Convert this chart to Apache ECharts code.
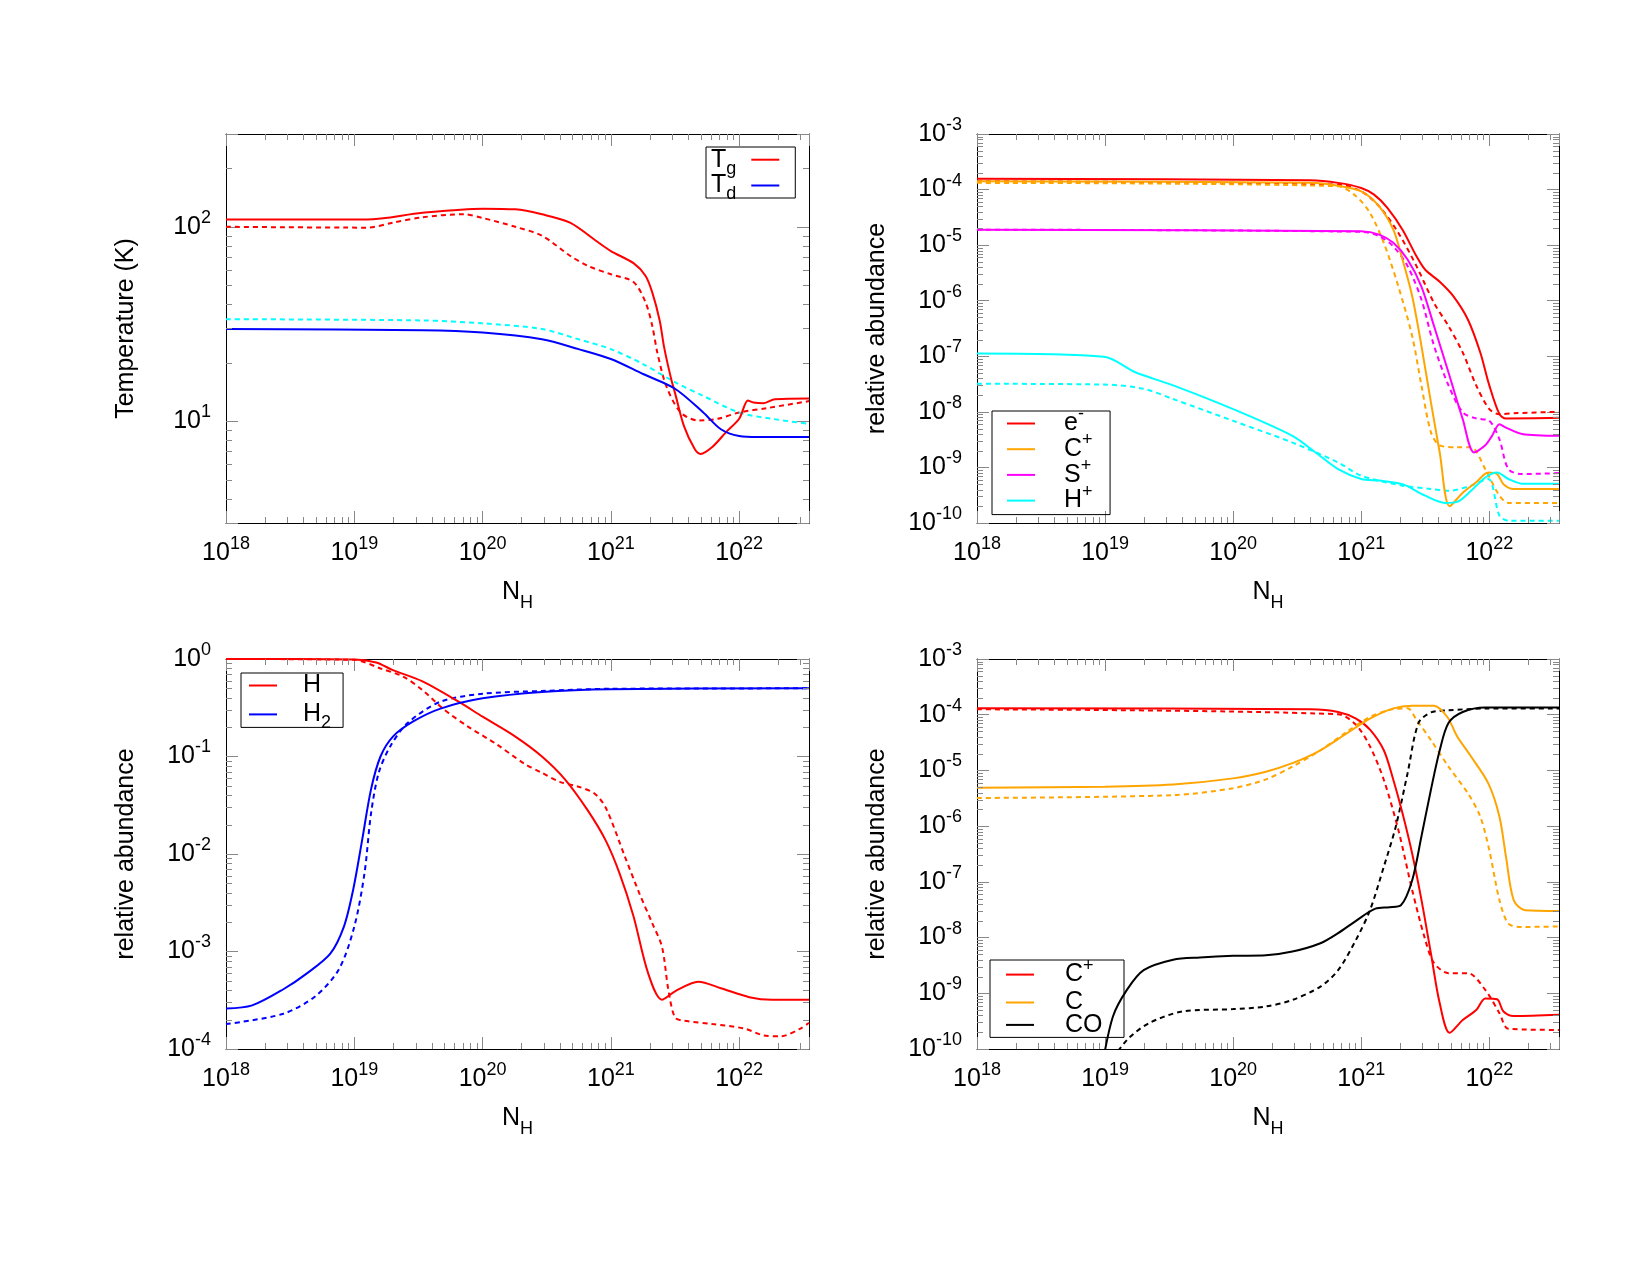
<!DOCTYPE html>
<html>
<head>
<meta charset="utf-8">
<script src="https://cdn.jsdelivr.net/npm/echarts@6/dist/echarts.min.js"></script>
<style>
html, body { margin: 0; padding: 0; background: #fff; }
#main { width: 1650px; height: 1275px; }
</style>
</head>
<body>
<div id="main"></div>
<script>
var FONT = '"Liberation Sans", Arial, Helvetica, sans-serif';

// axis ranges
var nhRange = [1e18, 3.5e22];
var tempRange = [3, 300];
var ionRange = [1e-10, 1e-3];
var hydRange = [1e-4, 1];
var carbRange = [1e-10, 1e-3];

// top left: temperatures [N_H, T]
var tgSolid = [[1e18,109],[1.26e19,109],[3.4e19,118],[1e20,124],[1.8e20,123],[2.9e20,116],[4.8e20,105],[7.8e20,84],[1e21,75],[1.5e21,65],[1.86e21,56],[2.1e21,46],[2.4e21,33],[2.6e21,24],[2.95e21,16.5],[3.16e21,14],[3.7e21,9.5],[4.5e21,7.2],[5e21,6.8],[6.2e21,7.4],[7.9e21,8.8],[1e22,10.3],[1.17e22,12.8],[1.29e22,12.5],[1.55e22,12.4],[1.9e22,13.0],[3.5e22,13.1]];
var tgDashed = [[1e18,100],[1.26e19,99],[2e19,105],[3.4e19,112],[7.1e19,116],[1e20,111],[1.8e20,100],[2.9e20,90],[4.8e20,71],[6.6e20,63],[1e21,57],[1.5e21,52],[1.86e21,41],[2.1e21,31],[2.3e21,22.6],[2.7e21,15.2],[3.5e21,11.1],[4.8e21,10.1],[6.8e21,10.3],[1e22,11.1],[1.66e22,11.7],[3.5e22,12.7]];
var tdSolid = [[1e18,29.8],[3.4e19,29.4],[1e20,28.6],[2.9e20,26.4],[5.6e20,23.5],[1e21,20.9],[1.78e21,17.5],[3.16e21,14.7],[5.25e21,11.1],[7.2e21,9.1],[1e22,8.4],[1.4e22,8.3],[3.5e22,8.3]];
var tdDashed = [[1e18,33.5],[3.4e19,33],[1e20,31.9],[2.9e20,29.8],[5.6e20,26.4],[1e21,23.5],[1.78e21,19.7],[3.16e21,15.9],[5.25e21,13.5],[1e22,11.1],[1.8e22,10.3],[3.5e22,9.7]];

// top right: ions
var eSolid = [[1e18,1.56e-4],[4e20,1.47e-4],[6.6e20,1.32e-4],[1e21,1.07e-4],[1.26e21,8.1e-5],[1.6e21,4.7e-5],[2.1e21,1.9e-5],[2.7e21,6.3e-6],[3.16e21,3.6e-6],[4.1e21,2.2e-6],[5.25e21,1.2e-6],[6.8e21,4.6e-7],[8.5e21,1.17e-7],[1e22,3.0e-8],[1.2e22,9.1e-9],[1.35e22,7.6e-9],[3.5e22,7.8e-9]];
var eDashed = [[1e18,1.41e-4],[6.6e20,1.23e-4],[1e21,9.3e-5],[1.38e21,5.0e-5],[1.95e21,1.66e-5],[2.7e21,4.2e-6],[3.7e21,9.1e-7],[4.8e21,3.5e-7],[6.2e21,1.17e-7],[7.9e21,3.0e-8],[1e22,1.12e-8],[1.2e22,9.1e-9],[1.66e22,9.5e-9],[3.5e22,1.0e-8]];
var cpIonSolid = [[1e18,1.41e-4],[4e20,1.32e-4],[6.6e20,1.17e-4],[1e21,9.3e-5],[1.38e21,5.0e-5],[1.78e21,1.9e-5],[2.1e21,5.5e-6],[2.5e21,1.2e-6],[2.95e21,1.55e-7],[3.5e21,1.48e-8],[4.1e21,1.86e-9],[4.9e21,2.0e-10],[6.2e21,3.5e-10],[7.9e21,5.4e-10],[9.8e21,8.1e-10],[1.15e22,7.6e-10],[1.29e22,5.0e-10],[1.55e22,4.1e-10],[3.5e22,4.1e-10]];
var cpIonDashed = [[1e18,1.32e-4],[6.6e20,1.15e-4],[9.1e20,7.6e-5],[1.17e21,3.8e-5],[1.5e21,1.1e-5],[1.95e21,1.8e-6],[2.5e21,2.3e-7],[2.95e21,3.0e-8],[3.5e21,4.3e-9],[4.1e21,2.5e-9],[5.6e21,2.3e-9],[7.2e21,2.3e-9],[9.3e21,9.3e-10],[1.2e22,3.1e-10],[1.41e22,2.3e-10],[3.5e22,2.3e-10]];
var spSolid = [[1e18,1.9e-5],[1e21,1.78e-5],[1.38e21,1.55e-5],[1.78e21,1.1e-5],[2.3e21,5.5e-6],[2.95e21,1.8e-6],[3.7e21,3.5e-7],[4.8e21,5.1e-8],[6.2e21,7.4e-9],[7.6e21,1.86e-9],[9.3e21,2.5e-9],[1.05e22,3.7e-9],[1.2e22,6.0e-9],[1.35e22,5.2e-9],[1.8e22,4.0e-9],[3.5e22,3.7e-9]];
var spDashed = [[1e18,1.9e-5],[1e21,1.74e-5],[1.38e21,1.45e-5],[1.78e21,9.5e-6],[2.3e21,4.2e-6],[2.95e21,1.05e-6],[3.7e21,1.55e-7],[4.8e21,3.0e-8],[6.2e21,9.8e-9],[7.9e21,7.6e-9],[1e22,6.9e-9],[1.2e22,3.2e-9],[1.41e22,9.3e-10],[1.8e22,7.6e-10],[3.5e22,7.9e-10]];
var hpSolid = [[1e18,1.12e-7],[9.8e18,9.8e-8],[1.74e19,5.1e-8],[3.4e19,3.0e-8],[1e20,1.12e-8],[2.9e20,3.7e-9],[4.4e20,1.86e-9],[6.6e20,9.3e-10],[1e21,6.2e-10],[1.38e21,5.8e-10],[2.1e21,5.0e-10],[3.16e21,3.1e-10],[4.5e21,2.3e-10],[5.6e21,2.4e-10],[7.2e21,3.8e-10],[9.3e21,6.6e-10],[1.15e22,8.1e-10],[1.41e22,6.2e-10],[1.8e22,5.1e-10],[3.5e22,5.1e-10]];
var hpDashed = [[1e18,3.2e-8],[9.8e18,3.1e-8],[2e19,2.6e-8],[3.4e19,1.7e-8],[1e20,6.9e-9],[2.9e20,2.8e-9],[6.6e20,1.23e-9],[1e21,7.1e-10],[2.1e21,4.7e-10],[3.5e21,4.1e-10],[4.8e21,3.8e-10],[7.2e21,4.7e-10],[9.8e21,6.2e-10],[1.2e22,1.35e-10],[1.41e22,1.1e-10],[3.5e22,1.1e-10]];

// bottom left: hydrogen
var hSolid = [[1e18,1.0],[1e19,0.99],[1.48e19,0.92],[2e19,0.77],[3.4e19,0.59],[6.5e19,0.365],[1e20,0.256],[1.8e20,0.16],[2.9e20,0.1],[4.4e20,0.058],[6.6e20,0.028],[9.1e20,0.0138],[1.17e21,0.0063],[1.5e21,0.0023],[1.95e21,6.0e-4],[2.5e21,3.2e-4],[3.16e21,3.9e-4],[4.8e21,4.9e-4],[7.2e21,4.2e-4],[1.2e22,3.4e-4],[1.8e22,3.2e-4],[3.5e22,3.2e-4]];
var hDashed = [[1e18,1.0],[1e19,0.98],[1.6e19,0.8],[2.4e19,0.66],[3.4e19,0.48],[4.9e19,0.31],[7.8e19,0.2],[1.26e20,0.136],[2.1e20,0.085],[2.9e20,0.068],[4e20,0.055],[5.6e20,0.049],[7.4e20,0.042],[9.1e20,0.030],[1.29e21,0.0093],[1.66e21,0.004],[2.1e21,0.00195],[2.5e21,0.00112],[2.8e21,4.1e-4],[3.16e21,2.1e-4],[3.7e21,1.95e-4],[6.2e21,1.8e-4],[1.1e22,1.62e-4],[1.55e22,1.38e-4],[2.1e22,1.35e-4],[3e22,1.62e-4],[3.5e22,1.86e-4]];
var h2Solid = [[1e18,2.6e-4],[1.6e18,2.8e-4],[2.8e18,4.1e-4],[4.3e18,6.0e-4],[6.5e18,9.5e-4],[8.3e18,1.8e-3],[9.8e18,4.3e-3],[1.15e19,0.0138],[1.35e19,0.046],[1.6e19,0.1],[2e19,0.16],[2.9e19,0.23],[4.7e19,0.31],[1e20,0.395],[2.9e20,0.46],[1e21,0.49],[3.5e22,0.5]];
var h2Dashed = [[1e18,1.8e-4],[2.8e18,2.3e-4],[5e18,3.5e-4],[7.6e18,6.6e-4],[1e19,1.8e-3],[1.2e19,6.3e-3],[1.35e19,0.026],[1.55e19,0.068],[1.9e19,0.126],[2.6e19,0.22],[4.7e19,0.365],[1e20,0.44],[2.9e20,0.47],[1e21,0.495],[3.5e22,0.5]];

// bottom right: carbon
var cpSolid = [[1e18,1.3e-4],[4e20,1.25e-4],[6.6e20,1.12e-4],[9.1e20,8.5e-5],[1.17e21,5.4e-5],[1.5e21,2.3e-5],[1.78e21,6.8e-6],[2.1e21,1.7e-6],[2.5e21,3.2e-7],[2.95e21,4.8e-8],[3.5e21,5.2e-9],[4.1e21,6.6e-10],[4.9e21,1.95e-10],[6.2e21,3.3e-10],[7.9e21,5.0e-10],[9.3e21,8.1e-10],[1.15e22,7.8e-10],[1.29e22,4.7e-10],[1.55e22,3.9e-10],[3.5e22,4.1e-10]];
var cpDashed = [[1e18,1.25e-4],[6.6e20,1.02e-4],[9.1e20,6.6e-5],[1.17e21,2.7e-5],[1.5e21,6.8e-6],[1.95e21,8.5e-7],[2.5e21,7.1e-8],[3.16e21,9.1e-9],[3.7e21,3.5e-9],[4.8e21,2.3e-9],[6.8e21,2.3e-9],[9.3e21,1.15e-9],[1.2e22,4.4e-10],[1.41e22,2.3e-10],[3.5e22,2.2e-10]];
var cSolid = [[1e18,4.9e-6],[1e19,5.1e-6],[3.4e19,5.6e-6],[1e20,7.2e-6],[1.8e20,9.5e-6],[2.9e20,1.35e-5],[4.8e20,2.3e-5],[7.8e20,4.7e-5],[1.17e21,8.5e-5],[1.78e21,1.3e-4],[2.5e21,1.45e-4],[3.7e21,1.45e-4],[4.7e21,9.1e-5],[5.6e21,4.1e-5],[7.2e21,1.78e-5],[9.8e21,5.9e-6],[1.2e22,1.48e-6],[1.35e22,2.8e-7],[1.55e22,4.7e-8],[1.9e22,3.1e-8],[3.5e22,3.0e-8]];
var cDashed = [[1e18,3.2e-6],[3.4e19,3.6e-6],[1e20,4.8e-6],[1.8e20,6.9e-6],[2.9e20,1.17e-5],[4.8e20,2.3e-5],[7.8e20,5.0e-5],[1.17e21,9.1e-5],[1.78e21,1.26e-4],[2.3e21,1.3e-4],[2.7e21,8.1e-5],[3.5e21,3.5e-5],[4.8e21,1.17e-5],[6.8e21,3.9e-6],[8.5e21,1.48e-6],[1e22,3.7e-7],[1.2e22,4.7e-8],[1.41e22,1.78e-8],[1.8e22,1.55e-8],[3.5e22,1.58e-8]];
var coSolid = [[9.5e18,5e-11],[1.15e19,3.8e-10],[1.48e19,1.15e-9],[2e19,2.6e-9],[3.4e19,4.0e-9],[5.5e19,4.4e-9],[1e20,4.7e-9],[1.8e20,4.8e-9],[2.9e20,5.6e-9],[4.8e20,7.9e-9],[6.6e20,1.2e-8],[9.1e20,2.0e-8],[1.29e21,3.3e-8],[1.66e21,3.5e-8],[2.04e21,3.8e-8],[2.5e21,1.07e-7],[2.95e21,6.5e-7],[3.5e21,4.5e-6],[4.1e21,2.3e-5],[4.8e21,7.1e-5],[6.2e21,1.12e-4],[9.3e21,1.35e-4],[3.5e22,1.35e-4]];
var coDashed = [[1.05e19,5e-11],[1.48e19,1.45e-10],[2.2e19,2.9e-10],[4e19,4.7e-10],[1e20,5.2e-10],[1.8e20,5.8e-10],[2.9e20,7.6e-10],[4.8e20,1.32e-9],[6.6e20,2.6e-9],[9.1e20,9.1e-9],[1.17e21,3.1e-8],[1.5e21,1.86e-7],[1.86e21,9.8e-7],[2.3e21,8.9e-6],[2.8e21,7.1e-5],[3.5e21,1.1e-4],[4.8e21,1.2e-4],[9.3e21,1.29e-4],[3.5e22,1.29e-4]];

// legend texts (rich)
var legendText = {
  Tg: '{m|T}{sub|g}', Td: '{m|T}{sub|d}',
  'e-': '{b|e}{sup|-}', Cp1: '{b|C}{sup|+}', 'S+': '{b|S}{sup|+}', 'H+': '{b|H}{sup|+}',
  H: '{b|H}', H2: '{b|H}{sub|2}',
  Cp2: '{b|C}{sup|+}', C: '{b|C}', CO: '{b|CO}'
};

var grids = [
  {left: 226, top: 134, width: 583, height: 389},
  {left: 977, top: 134, width: 582, height: 389},
  {left: 226, top: 659, width: 583, height: 390},
  {left: 977, top: 659, width: 582, height: 390}
];

function powLabel(v) {
  var e = Math.log10(v);
  var r = Math.round(e);
  if (Math.abs(e - r) > 1e-6) return '';
  return '10{sup|' + r + '}';
}

var labelStyle = {
  fontSize: 25, fontFamily: FONT, color: '#000', lineHeight: 28,
  formatter: powLabel, interval: 0,
  rich: {sup: {fontSize: 18, fontFamily: FONT, color: '#000', lineHeight: 28, padding: [0, 0, 18, 0]}}
};

function logAxis(g, range, pos) {
  return {
    type: 'log', logBase: 10, gridIndex: g, position: pos,
    min: range[0], max: range[1],
    splitLine: {show: false},
    axisLine: {show: true, onZero: false, lineStyle: {color: '#000', width: 1}},
    axisTick: {show: true, inside: true, length: 12, lineStyle: {color: '#888', width: 1}},
    axisLabel: {show: false}
  };
}

var xAxis = [], yAxis = [];
var yRanges = [tempRange, ionRange, hydRange, carbRange];
var yNames = ['Temperature (K)', 'relative abundance', 'relative abundance', 'relative abundance'];
for (var g = 0; g < 4; g++) {
  var xb = logAxis(g, nhRange, 'bottom');
  xb.axisLabel = Object.assign({show: true, margin: 16}, labelStyle);
  xb.name = 'N{sub|H}';
  xb.nameLocation = 'middle';
  xb.nameGap = 37;
  xb.nameTextStyle = {fontSize: 25, fontFamily: FONT, color: '#000', lineHeight: 28,
    rich: {sub: {fontSize: 18, fontFamily: FONT, color: '#000', lineHeight: 28, padding: [22, 0, 0, 0]}}};
  xAxis.push(xb, logAxis(g, nhRange, 'top'));

  var yl = logAxis(g, yRanges[g], 'left');
  yl.axisLabel = Object.assign({show: true, margin: 15}, labelStyle);
  yl.name = yNames[g];
  yl.nameLocation = 'middle';
  yl.nameRotate = 90;
  yl.nameGap = 87;
  yl.nameTextStyle = {fontSize: 25, fontFamily: FONT, color: '#000'};
  yAxis.push(yl, logAxis(g, yRanges[g], 'right'));
}

function line(name, data, color, g, dashed) {
  return {
    type: 'line', name: name, data: data,
    xAxisIndex: g * 2, yAxisIndex: g * 2,
    symbol: 'none', showSymbol: false, smooth: 0.3,
    lineStyle: {color: color, width: 2, type: dashed ? [5, 4] : 'solid'},
    itemStyle: {color: color},
    silent: true, animation: false, z: dashed ? 2 : 3
  };
}

// minor log ticks (2..9 per decade) on all four sides
function minorValues(lo, hi) {
  var out = [];
  for (var e = Math.floor(Math.log10(lo)); e <= Math.ceil(Math.log10(hi)); e++) {
    for (var m = 2; m <= 9; m++) {
      var v = m * Math.pow(10, e);
      if (v > lo * 1.0001 && v < hi * 0.9999) out.push(v);
    }
  }
  return out;
}
function renderMinor(params, api) {
  var cs = params.coordSys;
  var p = api.coord([api.value(0), api.value(1)]);
  var st = {stroke: '#888', lineWidth: 1};
  var top = cs.y, bot = cs.y + cs.height, lft = cs.x, rgt = cs.x + cs.width;
  if (api.value(2) === 0) {
    var x = Math.round(p[0]) + 0.5;
    return {type: 'group', children: [
      {type: 'line', shape: {x1: x, y1: bot, x2: x, y2: bot - 6}, style: st},
      {type: 'line', shape: {x1: x, y1: top, x2: x, y2: top + 6}, style: st}]};
  }
  var y = Math.round(p[1]) + 0.5;
  return {type: 'group', children: [
    {type: 'line', shape: {x1: lft, y1: y, x2: lft + 6, y2: y}, style: st},
    {type: 'line', shape: {x1: rgt, y1: y, x2: rgt - 6, y2: y}, style: st}]};
}
function tickSeries(g) {
  var yr = yRanges[g], d = [];
  minorValues(nhRange[0], nhRange[1]).forEach(function (v) { d.push([v, yr[0], 0]); });
  minorValues(yr[0], yr[1]).forEach(function (v) { d.push([nhRange[0], v, 1]); });
  return {type: 'custom', xAxisIndex: g * 2, yAxisIndex: g * 2, data: d,
    encode: {x: 0, y: 1}, renderItem: renderMinor, silent: true, animation: false, z: 4, clip: false};
}

var RED = '#ff0000', BLUE = '#0000ff', CYAN = '#00ffff', ORANGE = '#ffa500', MAGENTA = '#ff00ff', BLACK = '#000000';

var series = [
  line('Tg', tgSolid, RED, 0), line('Tg dashed', tgDashed, RED, 0, true),
  line('Td', tdSolid, BLUE, 0), line('Td dashed', tdDashed, CYAN, 0, true),

  line('e-', eSolid, RED, 1), line('e- dashed', eDashed, RED, 1, true),
  line('Cp1', cpIonSolid, ORANGE, 1), line('Cp1 dashed', cpIonDashed, ORANGE, 1, true),
  line('S+', spSolid, MAGENTA, 1), line('S+ dashed', spDashed, MAGENTA, 1, true),
  line('H+', hpSolid, CYAN, 1), line('H+ dashed', hpDashed, CYAN, 1, true),

  line('H', hSolid, RED, 2), line('H dashed', hDashed, RED, 2, true),
  line('H2', h2Solid, BLUE, 2), line('H2 dashed', h2Dashed, BLUE, 2, true),

  line('Cp2', cpSolid, RED, 3), line('Cp2 dashed', cpDashed, RED, 3, true),
  line('C', cSolid, ORANGE, 3), line('C dashed', cDashed, ORANGE, 3, true),
  line('CO', coSolid, BLACK, 3), line('CO dashed', coDashed, BLACK, 3, true),

  tickSeries(0), tickSeries(1), tickSeries(2), tickSeries(3)
];

function legendRich(lead, trail) {
  var base = {fontFamily: FONT, color: '#000', lineHeight: 25};
  return {
    m: Object.assign({fontSize: 25}, base),
    b: Object.assign({fontSize: 25, padding: [0, 0, 0, lead]}, base),
    sub: Object.assign({fontSize: 18, padding: [18, trail, 0, 0]}, base),
    sup: Object.assign({fontSize: 18, padding: [0, 0, 18, 0]}, base)
  };
}
function legend(names, left, top, pad, gap, lead, trail, align) {
  return {
    data: names, left: left, top: top, orient: 'vertical', align: align || 'left',
    padding: pad, itemGap: gap, itemWidth: 28, itemHeight: 2, icon: 'rect',
    borderColor: '#000', borderWidth: 1, borderRadius: 0,
    selectedMode: false, itemStyle: {borderWidth: 0},
    formatter: function (n) { return legendText[n]; },
    textStyle: {fontSize: 25, fontFamily: FONT, color: '#000', lineHeight: 25, rich: legendRich(lead, trail)}
  };
}

var myChart = echarts.init(document.getElementById('main'));
var option = {
  backgroundColor: '#ffffff',
  animation: false,
  grid: grids.map(function (g) { return Object.assign({outerBoundsMode: 'none'}, g); }),
  xAxis: xAxis,
  yAxis: yAxis,
  legend: [
    legend(['Tg', 'Td'], 706, 147, [-5.3, 16, -5.5, 5], -10.2, 0, 10, 'right'),
    legend(['e-', 'Cp1', 'S+', 'H+'], 992, 411, [-5.5, 17.5, -4, 15], -10.3, 24, 0),
    legend(['H', 'H2'], 241, 673, [0, 12, -5, 8], -1.6, 21, 0),
    legend(['Cp2', 'C', 'CO'], 990, 960, [-3.4, 21.5, 0, 16], -2.6, 26, 0)
  ],
  series: series
};
myChart.setOption(option);
</script>
</body>
</html>
